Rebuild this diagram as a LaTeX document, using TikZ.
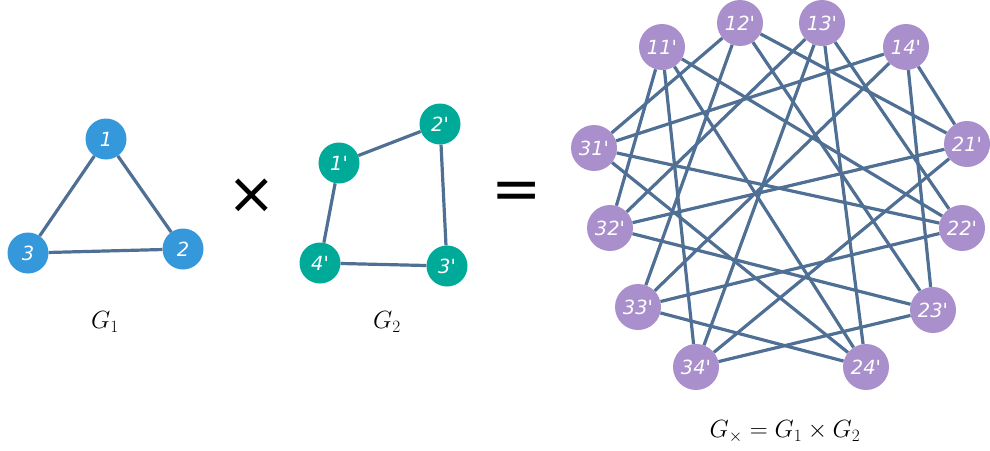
\documentclass[tikz,border=0pt]{standalone}
\usepackage{fontspec}
\newfontfamily\nodefont[Ligatures=TeXOff]{DejaVu Sans}
\newfontfamily\opfont{DejaVu Sans}
\definecolor{gone}{RGB}{52,152,219}
\definecolor{gtwo}{RGB}{0,170,152}
\definecolor{gprod}{RGB}{169,143,203}
\definecolor{edgec}{RGB}{79,112,148}
\begin{document}
\begin{tikzpicture}[x=1pt,y=-1pt,
  vtx/.style={circle,inner sep=0pt,text=white,font=\nodefont\itshape\fontsize{19.5}{19.5}\selectfont},
  vone/.style={vtx,fill=gone,minimum size=41pt},
  vtwo/.style={vtx,fill=gtwo,minimum size=41pt},
  vprod/.style={vtx,fill=gprod,minimum size=46pt},
  edge/.style={draw=edgec,line width=3.2pt},
  glabel/.style={font=\fontsize{24}{28}\selectfont}]
\useasboundingbox (0,0) rectangle (990,450);
% G1
\node[vone] (a1) at (106,139) {1};
\node[vone] (a2) at (183,249) {2};
\node[vone] (a3) at (28,253) {3};
\draw[edge] (a1) -- (a2) (a2) -- (a3) (a3) -- (a1);
\node[glabel] (l1) at (105,322) {$G_1$};
% times
\node[font=\opfont\fontsize{58}{58}\selectfont,inner sep=0pt] (times) at (252,196) {×};
% G2
\node[vtwo] (b1) at (339,163) {1'};
\node[vtwo] (b2) at (440,124) {2'};
\node[vtwo] (b3) at (447,266) {3'};
\node[vtwo] (b4) at (320,263) {4'};
\draw[edge] (b1) -- (b2) (b2) -- (b3) (b3) -- (b4) (b4) -- (b1);
\node[glabel] (l2) at (387,322) {$G_2$};
% equals
\node[font=\opfont\fontsize{60}{60}\selectfont,inner sep=0pt] (eq) at (517,196) {=};
% product
\node[vprod] (p11) at (662,47) {11'};
\node[vprod] (p12) at (740,23) {12'};
\node[vprod] (p13) at (822,23) {13'};
\node[vprod] (p14) at (906,47) {14'};
\node[vprod] (p21) at (967,144) {21'};
\node[vprod] (p22) at (962,228) {22'};
\node[vprod] (p23) at (933,310) {23'};
\node[vprod] (p24) at (866,367) {24'};
\node[vprod] (p34) at (696,367) {34'};
\node[vprod] (p33) at (638,307) {33'};
\node[vprod] (p32) at (610,228) {32'};
\node[vprod] (p31) at (594,148) {31'};
\foreach \a/\b in {1/2,1/3,2/3}{
  \foreach \x/\y in {1/2,2/1,2/3,3/2,3/4,4/3,4/1,1/4}{
    \draw[edge] (p\a\x) -- (p\b\y);
  }
}
\node[glabel] (l3) at (785,432) {$G_\times = G_1 \times G_2$};
\end{tikzpicture}
\end{document}
